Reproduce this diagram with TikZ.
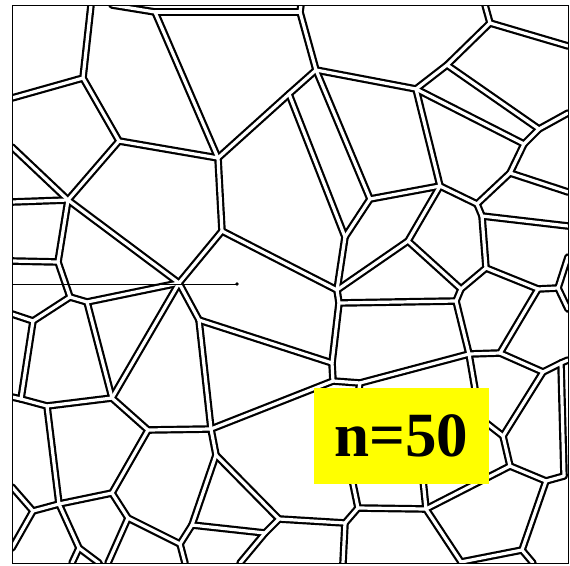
\documentclass[tikz,border=0pt]{standalone}
\usepackage{fontspec}
\setmainfont{Liberation Serif}
\definecolor{boxyellow}{RGB}{255,255,0}
\newcommand{\wallpairs}{tA/A, lA/A, A/B, B/C, B/V4, tE/E, E/F, E/C, tF/F, F/G,
  C/J, J/G, C/M, J/K, G/I, G/H, I/K, I/L, K/N, M/P, M/N,
  H/H2, H2/H3, tH/H3, H3/r1, H2/H4, H4/r2, H/H5, H4/H5, H5/H6, H6/r3, H6/H7,
  H/L, L/H7, H7/H8, H8/r4, H8/H9, L/M2, M2/N, M2/H10a, H9/H10a, H10a/H10b,
  H9/H13, H13/H15, H15/r5, H15/r6, H13/H12, N/N2, N2/H10b, H10b/H11, N2/N3,
  N3/U, N3/N4, N4/T, N4/N5, N5/H11, H11/H12, H12/H14, H14/H16, H16/r7, H16/H23,
  H14/H17, H23/H22, H17/H18, H18/H22, H22/H21, H21/b7, H21/H20, H18/H19,
  H19/H20, H19/V10, V10/V9, V9/b6, V9/V8, V8/V7, V8/W9, W9/b5, W9/W8, W8/V7,
  W8/W7, W7/b4, W7/W6, W6/b3, W6/W5, W5/S, W5/W3, W3/W2, W3/W4, W4/l6, W4/l7,
  W3/W10, W10/b1, W10/b2, W2/W1, W1/l5, W1/Q3, W2/R, R/Q2, R/P, R/S, S/T, T/U,
  T/V7, U/P, P/V4, P/Q2, Q2/Q1, Q1/V6, Q1/Q3, Q3/l4, V6/l3, V6/V4, V4/l2, V4/l1,
  N5/X1, X1/V10, X1/X2, X2/H19, X2/X3, X3/H11, X3/H17}

\begin{document}
\begin{tikzpicture}[x=1pt,y=-1pt,
  wallout/.style={line width=7.6pt,line cap=round,line join=round},
  wallin/.style={line width=3.2pt,white,line cap=round,line join=round},
  boxline/.style={line width=1pt},
  probe/.style={line width=0.9pt},
  countbox/.style={fill=boxyellow,minimum width=175pt,minimum height=96pt,inner sep=0pt,
    font=\bfseries\fontsize{63}{63}\selectfont}]
  \useasboundingbox (0,0) rectangle (570,565);

  \coordinate (tA) at (91,5);   \coordinate (tE) at (112,5);
  \coordinate (tF) at (301,5);  \coordinate (tH) at (485,5);
  \coordinate (lA) at (12,98);  \coordinate (l1) at (12,147);
  \coordinate (l2) at (12,202); \coordinate (l3) at (12,261);
  \coordinate (l4) at (12,314); \coordinate (l5) at (12,397);
  \coordinate (l6) at (12,487); \coordinate (l7) at (12,548);
  \coordinate (b1) at (72,563); \coordinate (b2) at (99,563);
  \coordinate (b3) at (108,563); \coordinate (b4) at (185,563);
  \coordinate (b5) at (240,563); \coordinate (b6) at (343,563);
  \coordinate (b7) at (533,563);
  \coordinate (r1) at (568,46);  \coordinate (r2) at (568,113);
  \coordinate (r3) at (568,192); \coordinate (r4) at (568,226);
  \coordinate (r5) at (568,257); \coordinate (r6) at (568,309);
  \coordinate (r7) at (568,360);

  \coordinate (A) at (83,78);    \coordinate (B) at (119,141);
  \coordinate (C) at (218,158);  \coordinate (E) at (155,12);
  \coordinate (F) at (300,12);   \coordinate (G) at (316,70);
  \coordinate (J) at (289,94);   \coordinate (I) at (370,199);
  \coordinate (K) at (345,237);  \coordinate (H) at (416,89);
  \coordinate (H2) at (447,65);  \coordinate (H3) at (490,23);
  \coordinate (H4) at (539,129); \coordinate (H5) at (524,144);
  \coordinate (H6) at (510,173); \coordinate (L) at (440,186);
  \coordinate (H7) at (477,204); \coordinate (H8) at (482,216);
  \coordinate (H9) at (486,268); \coordinate (H10a) at (461,289);
  \coordinate (H10b) at (456,301); \coordinate (H13) at (538,289);
  \coordinate (H15) at (558,288); \coordinate (M2) at (408,241);
  \coordinate (N) at (337,290);  \coordinate (N2) at (339,303);
  \coordinate (N3) at (332,363); \coordinate (N4) at (333,381);
  \coordinate (N5) at (360,383); \coordinate (H11) at (469,354);
  \coordinate (H12) at (500,353); \coordinate (H14) at (543,372);
  \coordinate (H16) at (561,363); \coordinate (H23) at (564,476);
  \coordinate (H17) at (503,436); \coordinate (H18) at (510,466);
  \coordinate (H22) at (546,481); \coordinate (H21) at (522,550);
  \coordinate (H20) at (461,562); \coordinate (H19) at (426,509);
  \coordinate (V10) at (358,508); \coordinate (V9) at (345,523);
  \coordinate (V8) at (279,519); \coordinate (V7) at (216,455);
  \coordinate (W9) at (265,533); \coordinate (W8) at (192,525);
  \coordinate (W7) at (180,544); \coordinate (W6) at (128,518);
  \coordinate (W5) at (112,493); \coordinate (W3) at (59,504);
  \coordinate (W4) at (33,511);  \coordinate (W10) at (79,548);
  \coordinate (W2) at (47,406);  \coordinate (W1) at (21,399);
  \coordinate (R) at (112,398);  \coordinate (S) at (148,430);
  \coordinate (T) at (211,429);  \coordinate (U) at (199,320);
  \coordinate (P) at (179,283);  \coordinate (M) at (222,231);
  \coordinate (V4) at (68,200);  \coordinate (V6) at (58,262);
  \coordinate (Q1) at (70,297);  \coordinate (Q2) at (87,302);
  \coordinate (Q3) at (33,321);
  \coordinate (X1) at (347,455); \coordinate (X2) at (420,450);
  \coordinate (X3) at (480,418);

  \begin{scope}
    \clip (12,5) rectangle (568,563);
    \foreach \a/\b in \wallpairs \draw[wallout] (\a) -- (\b);
    \foreach \a/\b in \wallpairs \draw[wallin] (\a) -- (\b);
  \end{scope}
  \draw[boxline] (12,5) rectangle (568,563);

  \coordinate (l8) at (12,284);
  \coordinate (pend) at (237,284);
  \draw[probe] (l8) -- (pend);
  \fill (pend) circle (1.8pt);

  \node[countbox] (count) at (401.5,436) {n=50};
\end{tikzpicture}
\end{document}
